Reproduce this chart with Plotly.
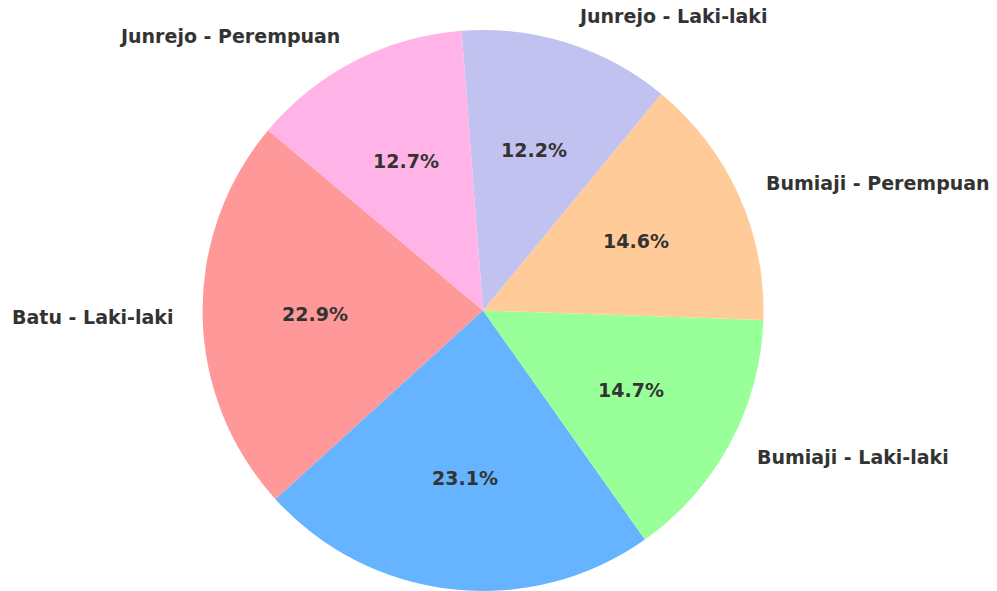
import math
import plotly.graph_objects as go

# data
labels = ['Batu - Laki-laki', 'Batu - Perempuan', 'Bumiaji - Laki-laki',
          'Bumiaji - Perempuan', 'Junrejo - Laki-laki', 'Junrejo - Perempuan']
values = [22.9, 23.1, 14.7, 14.6, 12.2, 12.7]
colors = ['#ff9999', '#66b3ff', '#99ff99', '#ffcc99', '#c2c2f0', '#ffb3e6']

start_angle = 140  # degrees, counterclockwise from 3 o'clock
W, H = 997, 591
margin = dict(l=0, r=47, t=22, b=8)  # page body adds 8px offset

total = sum(values)
# plotly puts the first slice clockwise of `rotation` when going counterclockwise
first_end = start_angle + values[0] / total * 360

fig = go.Figure()
fig.add_trace(go.Pie(labels=labels, values=values, sort=False,
                     direction='counterclockwise', rotation=90 - first_end,
                     marker=dict(colors=colors, line=dict(width=0)),
                     textinfo='none', hoverinfo='label+percent',
                     showlegend=False))

# matplotlib-like label placement: names at 1.1 r, percentages at 0.6 r
pw = W - margin['l'] - margin['r']
ph = H - margin['t'] - margin['b']
r = min(pw, ph) / 2
font = dict(family='DejaVu Sans', size=19, color='#333333', weight='bold')
annotations = []
angle = start_angle
for lab, v in zip(labels, values):
    span = v / total * 360
    mid = math.radians(angle + span / 2)
    angle += span
    cx, cy = math.cos(mid), math.sin(mid)
    annotations.append(dict(x=0.5 + 0.6 * r * cx / pw, y=0.5 + 0.6 * r * cy / ph,
                            xref='paper', yref='paper', showarrow=False,
                            text='%.1f%%' % (v / total * 100), font=font,
                            xanchor='center', yanchor='middle'))
    annotations.append(dict(x=0.5 + 1.1 * r * cx / pw, y=0.5 + 1.1 * r * cy / ph,
                            xref='paper', yref='paper', showarrow=False,
                            text=lab, font=font,
                            xanchor='left' if cx > 0 else 'right', yanchor='middle'))

fig.update_layout(width=W, height=H, margin=margin, annotations=annotations,
                  paper_bgcolor='white', plot_bgcolor='white')
fig.write_html("out.html")
